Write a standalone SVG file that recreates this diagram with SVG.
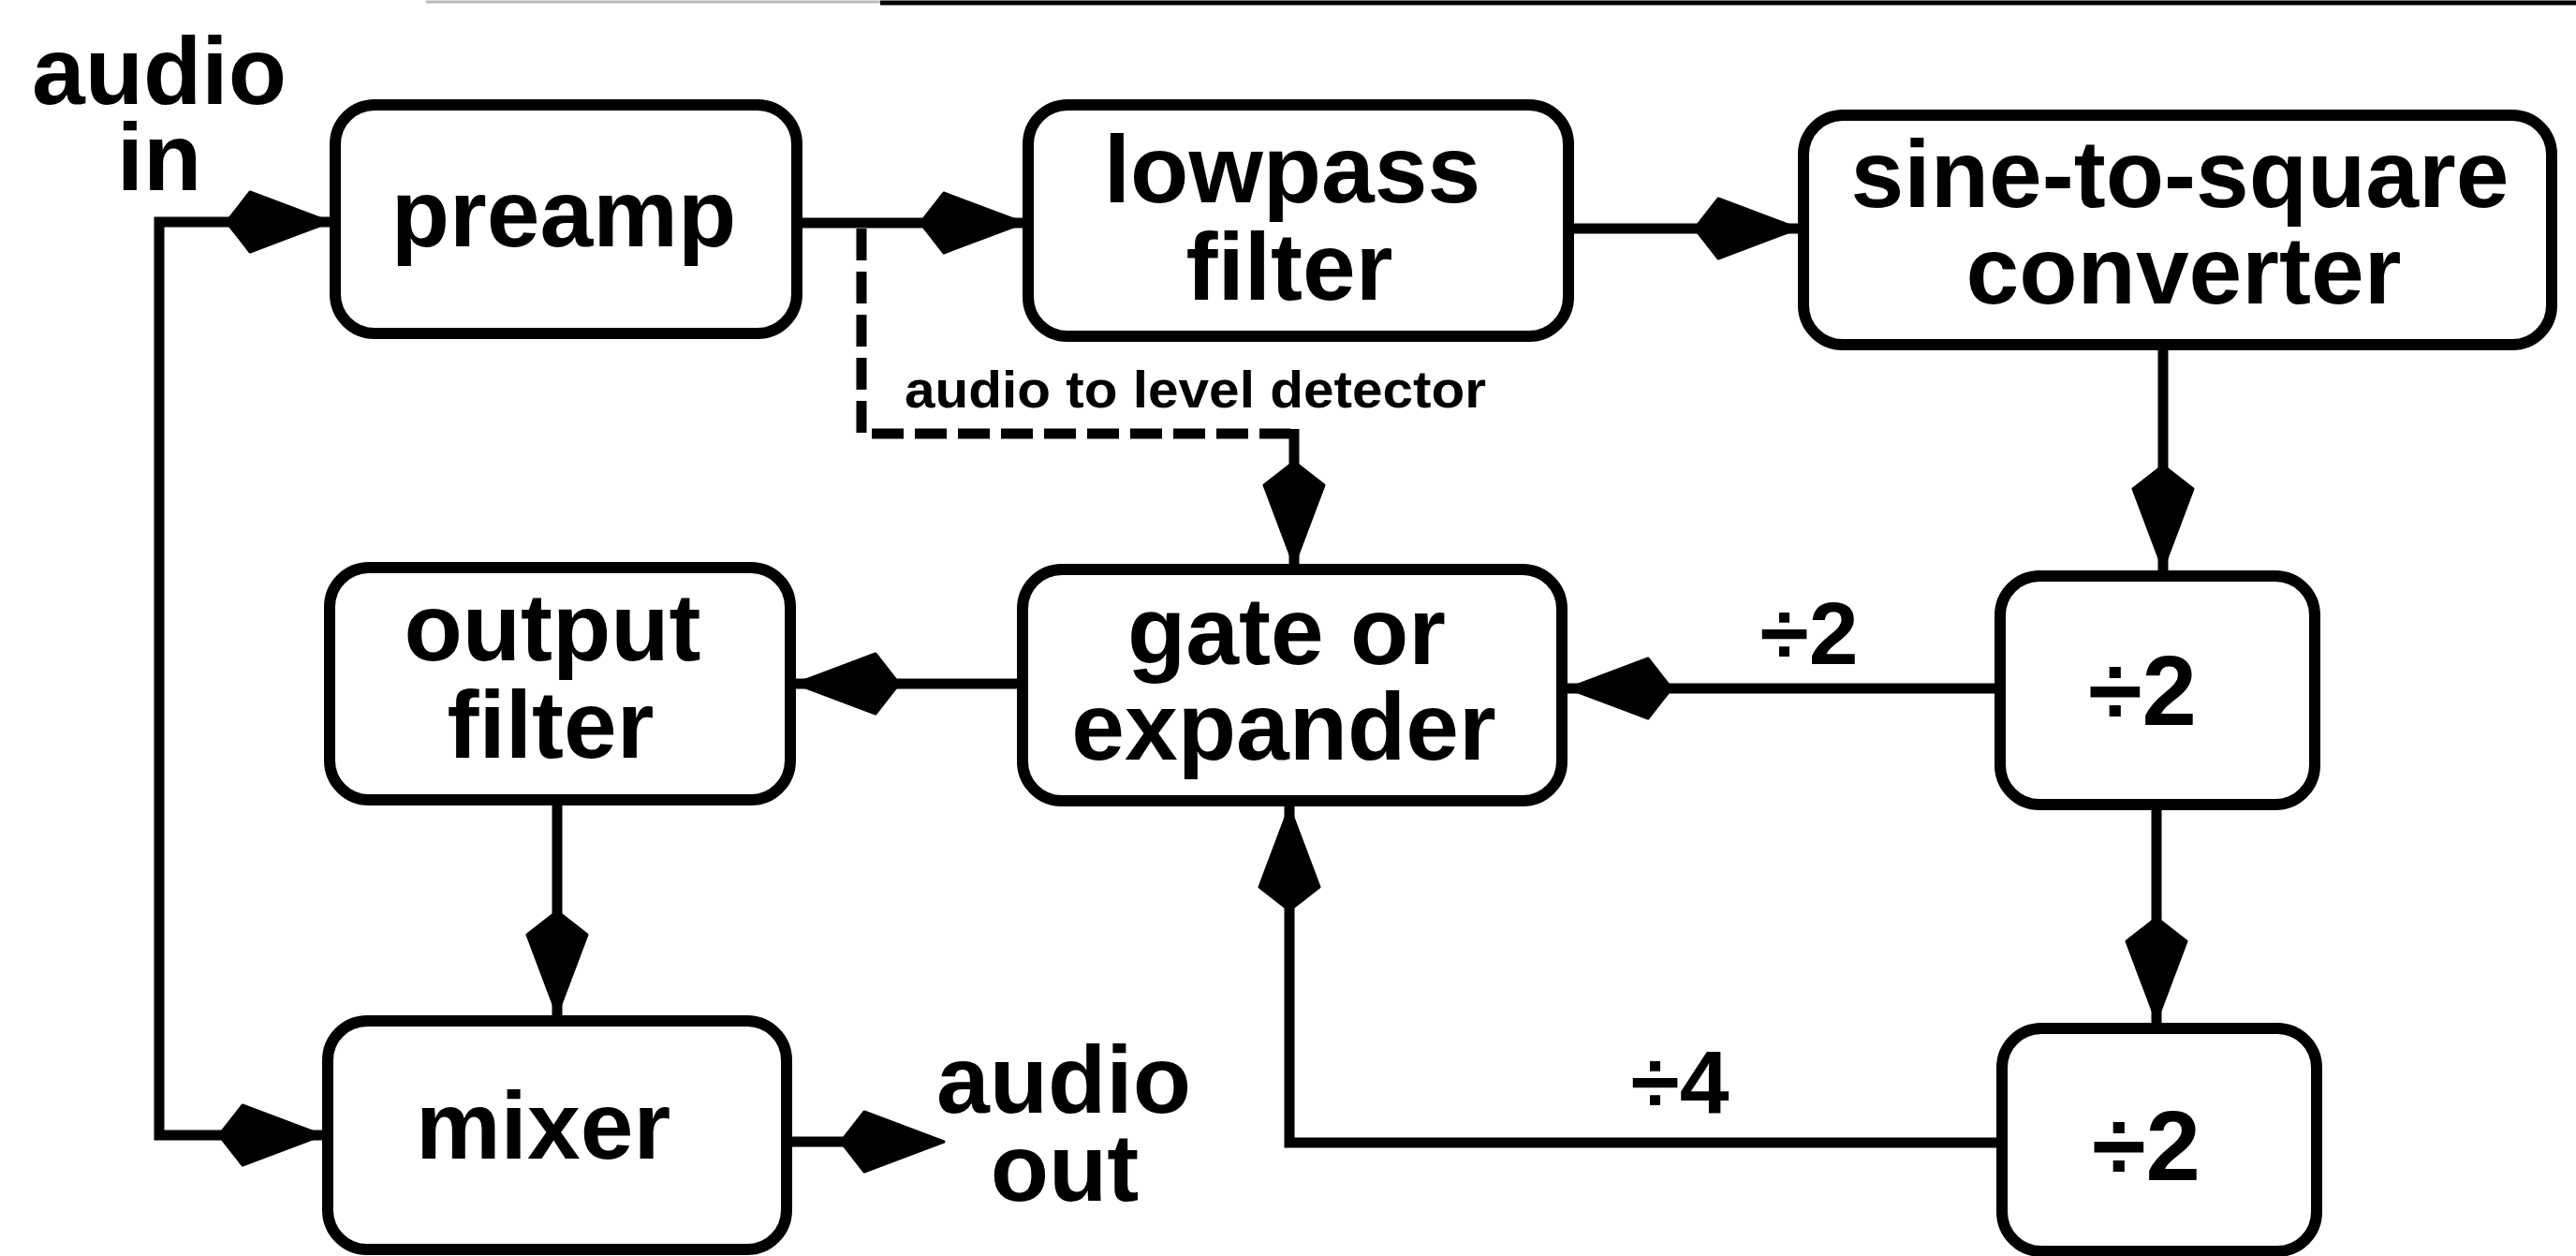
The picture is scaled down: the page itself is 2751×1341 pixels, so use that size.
<svg xmlns="http://www.w3.org/2000/svg" xmlns:xlink="http://www.w3.org/1999/xlink" width="2751" height="1341" viewBox="0 0 2751 1341">
<style>
.box{fill:#fff;stroke:#000;stroke-width:12}
.ln{fill:none;stroke:#000;stroke-width:11;stroke-linejoin:miter;stroke-linecap:butt}
.dash{fill:none;stroke:#000;stroke-width:11;stroke-dasharray:34 12}
.t{font-family:"Liberation Sans",Arial,sans-serif;font-weight:bold;font-size:102px;fill:#000;text-anchor:middle}
.s{font-family:"Liberation Sans",Arial,sans-serif;font-weight:bold;font-size:56px;fill:#000}
.ar{fill:#000;stroke:#000;stroke-width:3;stroke-linejoin:round}
</style>
<defs>
<path id="arr" class="ar" d="M0,0 L-85,-32 L-110,0 L-85,32 Z"/>
</defs>
<rect width="2751" height="1341" fill="#fff"/>
<line x1="455" y1="2" x2="940" y2="2" stroke="#bbb" stroke-width="3"/>
<line x1="940" y1="3" x2="2751" y2="3" stroke="#000" stroke-width="5"/>

<g id="connectors">
<path class="ln" d="M358,237 H170 V1212 H350"/>
<path class="ln" d="M851,238 H1098"/>
<path class="ln" d="M1675,244 H1926"/>
<path class="ln" d="M2310,368 V615"/>
<path class="dash" d="M920,244 V463 H1378"/>
<path class="ln" d="M1382,458 V608"/>
<path class="ln" d="M2136,735 H1668"/>
<path class="ln" d="M1092,730 H844"/>
<path class="ln" d="M595,854 V1090"/>
<path class="ln" d="M840,1219 H960"/>
<path class="ln" d="M2303,859 V1098"/>
<path class="ln" d="M2138,1220 H1377 V855"/>
<use xlink:href="#arr" transform="translate(352,237)"/>
<use xlink:href="#arr" transform="translate(1093,238)"/>
<use xlink:href="#arr" transform="translate(1920,244)"/>
<use xlink:href="#arr" transform="translate(2310,607) rotate(90)"/>
<use xlink:href="#arr" transform="translate(1382,603) rotate(90)"/>
<use xlink:href="#arr" transform="translate(1675,735) rotate(180)"/>
<use xlink:href="#arr" transform="translate(850,730) rotate(180)"/>
<use xlink:href="#arr" transform="translate(595,1083) rotate(90)"/>
<use xlink:href="#arr" transform="translate(1008,1219)"/>
<use xlink:href="#arr" transform="translate(2303,1090) rotate(90)"/>
<use xlink:href="#arr" transform="translate(1377,862) rotate(-90)"/>
<use xlink:href="#arr" transform="translate(344,1212)"/>
<text class="s" x="966" y="435" textLength="621" lengthAdjust="spacingAndGlyphs">audio to level detector</text>
<text class="t" x="1932" y="709" style="font-size:95px">÷2</text>
<text class="t" x="1794" y="1188" style="font-size:95px">÷4</text>
</g>

<g id="audio-in">
<text class="t" x="170" y="111">audio</text>
<text class="t" x="170" y="203">in</text>
</g>
<g id="audio-out">
<text class="t" x="1136" y="1188">audio</text>
<text class="t" x="1137" y="1282">out</text>
</g>

<g id="preamp">
<rect class="box" x="358" y="112" width="493" height="244" rx="42"/>
<text class="t" x="602" y="263">preamp</text>
</g>
<g id="lowpass">
<rect class="box" x="1098" y="112" width="577" height="247" rx="42"/>
<text class="t" x="1380" y="216">lowpass</text>
<text class="t" x="1377" y="320">filter</text>
</g>
<g id="sine-to-square">
<rect class="box" x="1926" y="123" width="799" height="245" rx="42"/>
<text class="t" x="2328" y="221">sine-to-square</text>
<text class="t" x="2332" y="324">converter</text>
</g>
<g id="div2-upper">
<rect class="box" x="2136" y="615" width="336" height="244" rx="42"/>
<text class="t" x="2288" y="774" style="font-size:105px">÷2</text>
</g>
<g id="gate">
<rect class="box" x="1092" y="608" width="576" height="247" rx="42"/>
<text class="t" x="1374" y="709">gate or</text>
<text class="t" x="1371" y="811">expander</text>
</g>
<g id="output-filter">
<rect class="box" x="352" y="606" width="492" height="248" rx="42"/>
<text class="t" x="590" y="705">output</text>
<text class="t" x="588" y="809">filter</text>
</g>
<g id="mixer">
<rect class="box" x="350" y="1090" width="490" height="244" rx="42"/>
<text class="t" x="580" y="1237">mixer</text>
</g>
<g id="div2-lower">
<rect class="box" x="2138" y="1098" width="336" height="238" rx="42"/>
<text class="t" x="2292" y="1260" style="font-size:105px">÷2</text>
</g>
</svg>
